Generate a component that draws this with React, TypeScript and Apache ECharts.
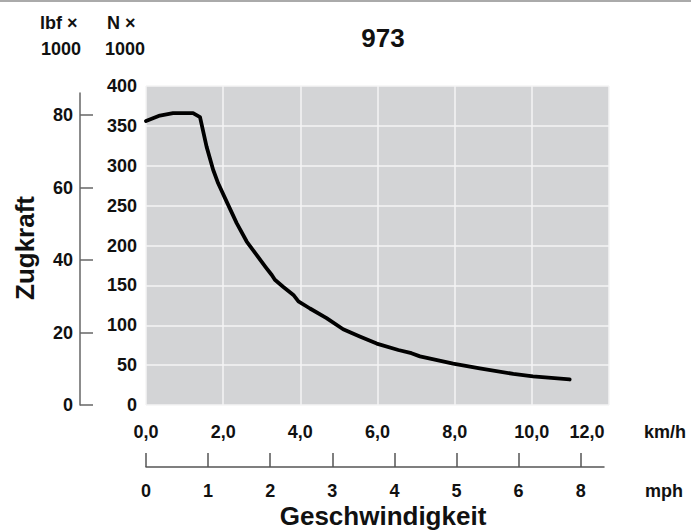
import React, { useEffect, useRef } from "react";
import * as echarts from "echarts";

// ---- data ----
const title = "973";
const speedKmh = [0, 0.36, 0.7, 1.22, 1.4, 1.57, 1.74, 1.87, 2.09, 2.35, 2.61, 2.87, 3.1, 3.26, 3.34, 3.56, 3.82, 3.95, 4.25, 4.68, 5.11, 5.54, 5.98, 6.54, 6.88, 7.1, 7.96, 8.65, 9.52, 10.03, 10.98];
const forceKN = [356, 363, 366, 366, 361, 324, 295, 278, 255, 228, 205, 188, 173, 163, 157, 148, 138, 130, 121, 109, 95, 86, 77, 69, 65, 61, 52, 46, 39, 36, 32];
const kmhTicks = [0, 2, 4, 6, 8, 10, 12];
const nTicks = [0, 50, 100, 150, 200, 250, 300, 350, 400];
const lbfTicks = [0, 20, 40, 60, 80];
const mphTicks = [0, 1, 2, 3, 4, 5, 6, 7];
const mphTickLabels = ["0", "1", "2", "3", "4", "5", "6", "8"];
const kmhPerMph = 1.609344;

const FONT = "'Liberation Sans', Arial, sans-serif";

export default function App() {
  const ref = useRef<HTMLDivElement>(null);
  useEffect(() => {
    if (!ref.current) return;
    const chart = echarts.init(ref.current, undefined, { renderer: "svg" });
    const lbl = { fontFamily: FONT, fontWeight: "bold" as const, fontSize: 18, color: "#111" };
    const txt = { fontFamily: FONT, fontWeight: "bold" as const, fontSize: 18, fill: "#111" };
    const gridLeft = 146, gridRight = 82, gridTop = 86, gridBottom = 126;
    const plotW = 691 - gridLeft - gridRight;
    const mphRight = 87;
    const mphW = 691 - gridLeft - mphRight;
    const kmhMax = kmhTicks[kmhTicks.length - 1];
    const mphMax = (kmhMax / kmhPerMph) * (mphW / plotW);
    const lbfMax = 86.07;

    chart.setOption({
      animation: false,
      grid: [
        { left: gridLeft, right: gridRight, top: gridTop, bottom: gridBottom, show: true, backgroundColor: "#d3d4d6", borderWidth: 0 },
        { left: gridLeft, right: gridRight, top: 93, bottom: gridBottom },
        { left: gridLeft, right: mphRight, top: gridTop, bottom: gridBottom },
      ],
      xAxis: [
        {
          gridIndex: 0, type: "value", min: 0, max: kmhMax, interval: 2,
          axisLine: { show: false }, axisTick: { show: false },
          splitLine: { show: true, lineStyle: { color: "#f4f4f4", width: 1.5 } },
          axisLabel: {
            ...lbl, margin: 18,
            formatter: (v: number) => (v === kmhMax ? "{last|" + v.toFixed(1).replace(".", ",") + "}" : v.toFixed(1).replace(".", ",")),
            rich: { last: { ...lbl, padding: [0, 44, 0, 0] } },
          },
        },
        { gridIndex: 1, type: "value", min: 0, max: 1, show: false },
        {
          gridIndex: 2, type: "value", min: 0, max: mphMax, position: "bottom", offset: 62,
          axisLine: { show: true, onZero: false, lineStyle: { color: "#555", width: 1.5 } },
          axisTick: { show: true, inside: true, length: 14, customValues: mphTicks, lineStyle: { color: "#555", width: 1.5 } },
          splitLine: { show: false },
          axisLabel: { ...lbl, margin: 15, customValues: mphTicks, formatter: (v: number) => mphTickLabels[mphTicks.indexOf(Math.round(v))] ?? "" },
        },
      ],
      yAxis: [
        {
          gridIndex: 0, type: "value", min: 0, max: 400, interval: 50,
          axisLine: { show: false }, axisTick: { show: false },
          splitLine: { show: true, lineStyle: { color: "#f4f4f4", width: 1.5 } },
          axisLabel: { ...lbl, margin: 9 },
        },
        {
          gridIndex: 1, type: "value", min: 0, max: lbfMax, position: "left", offset: 66,
          axisLine: { show: true, onZero: false, lineStyle: { color: "#666", width: 1.5 } },
          axisTick: { show: true, inside: true, length: 13, customValues: lbfTicks, lineStyle: { color: "#666", width: 1.5 } },
          splitLine: { show: false },
          axisLabel: { ...lbl, margin: 7, customValues: lbfTicks },
        },
        { gridIndex: 2, type: "value", min: 0, max: 1, show: false },
      ],
      series: [
        {
          type: "line", xAxisIndex: 0, yAxisIndex: 0,
          data: speedKmh.map((x, i) => [x, forceKN[i]]),
          showSymbol: false, symbol: "none",
          lineStyle: { color: "#000", width: 3.8, cap: "round", join: "round" },
        },
      ],
      graphic: [
        { type: "line", shape: { x1: 0, y1: 1, x2: 691, y2: 1 }, style: { stroke: "#aaa", lineWidth: 2 } },
        { type: "text", x: 383, y: 38, style: { ...txt, text: title, fontSize: 26, align: "center", verticalAlign: "middle" } },
        { type: "text", x: 40, y: 23, style: { ...txt, text: "lbf ×", align: "left", verticalAlign: "middle" } },
        { type: "text", x: 41, y: 49, style: { ...txt, text: "1000", align: "left", verticalAlign: "middle" } },
        { type: "text", x: 107, y: 23, style: { ...txt, text: "N ×", align: "left", verticalAlign: "middle" } },
        { type: "text", x: 105, y: 49, style: { ...txt, text: "1000", align: "left", verticalAlign: "middle" } },
        { type: "text", x: 25, y: 248, rotation: Math.PI / 2, style: { ...txt, text: "Zugkraft", fontSize: 26, align: "center", verticalAlign: "middle" } },
        { type: "text", x: 644, y: 432, style: { ...txt, text: "km/h", align: "left", verticalAlign: "middle" } },
        { type: "text", x: 645, y: 491, style: { ...txt, text: "mph", align: "left", verticalAlign: "middle" } },
        { type: "text", x: 383, y: 516, style: { ...txt, text: "Geschwindigkeit", fontSize: 26, align: "center", verticalAlign: "middle" } },
      ],
    });
    return () => chart.dispose();
  }, []);
  return <div ref={ref} style={{ position: "fixed", left: 0, top: 0, width: 691, height: 531, background: "#fff" }} />;
}
